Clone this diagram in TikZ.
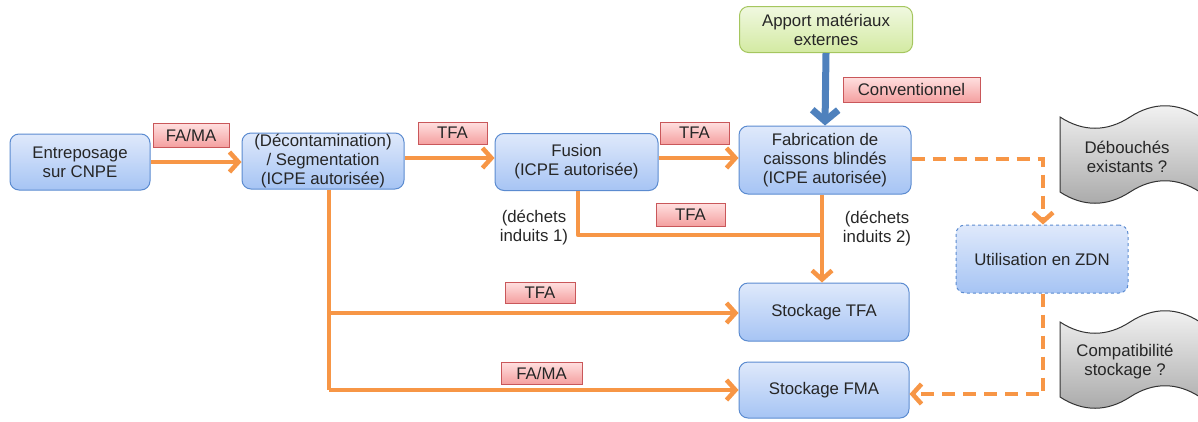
\documentclass[tikz,border=0pt]{standalone}
\usepackage{fontspec}
\setmainfont{Liberation Sans}
\usetikzlibrary{arrows.meta}
\definecolor{org}{HTML}{F79646}
\definecolor{bluarrow}{HTML}{4F81BD}
\definecolor{boxborder}{HTML}{5B8BD0}
\definecolor{boxtop}{HTML}{DFE9FB}
\definecolor{boxbot}{HTML}{A6C4F4}
\definecolor{labborder}{HTML}{C9575A}
\definecolor{labtop}{HTML}{FFE0E0}
\definecolor{labbot}{HTML}{F4A0A0}
\definecolor{grnborder}{HTML}{A5C65F}
\definecolor{grntop}{HTML}{F0F8E0}
\definecolor{grnbot}{HTML}{D3EAA2}
\definecolor{flagtop}{HTML}{F4F4F4}
\definecolor{flagbot}{HTML}{A8A8A8}
\definecolor{txt}{HTML}{262626}
\tikzset{
  box/.style={draw=boxborder, line width=1pt, rounded corners=9pt, top color=boxtop, bottom color=boxbot, align=center, inner sep=0pt, text=txt},
  lab/.style={draw=labborder, line width=1pt, top color=labtop, bottom color=labbot, align=center, inner sep=0pt, text=txt},
  flow/.style={draw=org, line width=4.5pt, line join=round, -{Straight Barb[length=9pt,width=20pt]}},
  flowline/.style={draw=org, line width=4.5pt, line join=round},
  dflow/.style={draw=org, line width=4.5pt, dash pattern=on 13pt off 8pt, -{Straight Barb[length=9pt,width=20pt]}},
  flag/.style={draw=black!80, line width=1pt, top color=flagtop, bottom color=flagbot},
  note/.style={align=center, inner sep=0pt, text=txt}
}
\begin{document}
\begin{tikzpicture}[x=1pt,y=-1pt, font=\fontsize{16.8}{19}\selectfont]
\useasboundingbox (0,0) rectangle (1198,421);

% boxes
\node[box, minimum width=140pt, minimum height=56pt] (ent) at (80,162) {Entreposage\\sur CNPE};
\node[box, minimum width=162pt, minimum height=56pt] (dec) at (323,161) {(Décontamination)\\/ Segmentation\\(ICPE autorisée)};
\node[box, minimum width=163pt, minimum height=57pt] (fus) at (576.5,162) {Fusion\\(ICPE autorisée)};
\node[box, minimum width=172pt, minimum height=68pt] (fab) at (825,160) {Fabrication de\\caissons blindés\\(ICPE autorisée)};
\node[draw=grnborder, line width=1pt, rounded corners=9pt, top color=grntop, bottom color=grnbot, align=center, inner sep=0pt, text=txt, minimum width=173pt, minimum height=46pt] (app) at (826,29.5) {Apport matériaux\\externes};
\node[box, minimum width=170pt, minimum height=58pt] (stfa) at (824,312) {Stockage TFA};
\node[box, minimum width=170pt, minimum height=56pt] (sfma) at (824,390) {Stockage FMA};
\node[box, dashed, minimum width=172pt, minimum height=68pt] (zdn) at (1042,259) {Utilisation en ZDN};

% labels
\node[lab, minimum width=76pt, minimum height=24pt] (l1) at (191,135) {FA/MA};
\node[lab, minimum width=69pt, minimum height=22pt] (l2) at (452.5,133) {TFA};
\node[lab, minimum width=69pt, minimum height=22pt] (l3) at (694.5,133) {TFA};
\node[lab, minimum width=69pt, minimum height=23pt] (l4) at (690.5,214.5) {TFA};
\node[lab, minimum width=70pt, minimum height=21pt] (l5) at (540,292.5) {TFA};
\node[lab, minimum width=81pt, minimum height=22pt] (l6) at (541.5,373) {FA/MA};
\node[lab, minimum width=137pt, minimum height=25pt] (conv) at (911.5,89.5) {Conventionnel};

% notes
\node[note] (n1) at (534,228) {(déchets\\induits 1)};
\node[note] (n2) at (877,229) {(déchets\\induits 2)};

% flags
\begin{scope}
\clip (0,0) rectangle (1198,421);
\path[flag] (1060,117) .. controls (1083,132) and (1107,132) .. (1130,117)
  .. controls (1153,102) and (1177,102) .. (1200,117) -- (1200,192)
  .. controls (1177,177) and (1153,177) .. (1130,192)
  .. controls (1107,207) and (1083,207) .. (1060,192) -- cycle;
\path[flag] (1060,322) .. controls (1083,337) and (1107,337) .. (1130,322)
  .. controls (1153,307) and (1177,307) .. (1200,322) -- (1200,397)
  .. controls (1177,382) and (1153,382) .. (1130,397)
  .. controls (1107,412) and (1083,412) .. (1060,397) -- cycle;
\end{scope}
\node[note] (f1) at (1127,157) {Débouchés\\existants ?};
\node[note] (f2) at (1125,362) {Compatibilité\\stockage ?};

% coordinates
\coordinate (decb) at (dec.south -| 329,0);
\coordinate (d1) at (329,313);
\coordinate (d2) at (329,390);
\coordinate (fusb) at (fus.south -| 578,0);
\coordinate (f1c) at (578,235);
\coordinate (fabb) at (fab.south -| 822,0);
\coordinate (m1) at (822,235);
\coordinate (e1) at (1043,159);
\coordinate (z1) at (zdn.south -| 1043,0);
\coordinate (z2) at (1043,394);

% orange flows
\draw[flow] (ent.east |- 0,162) -- (dec.west |- 0,162);
\draw[flow] (dec.east |- 0,158) -- (fus.west |- 0,158);
\draw[flow] (fus.east |- 0,158) -- (fab.west |- 0,158);
\draw[flowline] (decb) -- (d2);
\draw[flow] (d1) -- (stfa.west |- d1);
\draw[flow] (d2) -- (sfma.west |- d2);
\draw[flowline] (fusb) -- (f1c) -- (m1);
\draw[flow] (fabb) -- (stfa.north -| fabb);
\draw[dflow] (fab.east |- e1) -- (e1) -- (zdn.north -| e1);
\draw[dflow] (z1) -- (z2) -- (sfma.east |- z2);

% blue arrow
\draw[draw=bluarrow, line width=7pt, -{Straight Barb[length=11pt,width=26pt]}] (app.south) -- (fab.north);
\end{tikzpicture}
\end{document}
